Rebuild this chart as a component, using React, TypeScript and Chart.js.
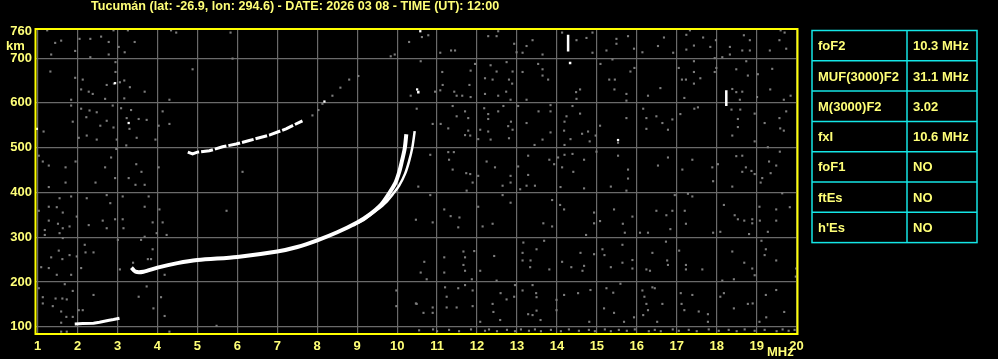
import React, { useEffect, useRef } from 'react';
import { Chart, registerables } from 'chart.js';

Chart.register(...registerables);

const TITLE = 'Tucumán (lat: -26.9, lon: 294.6) - DATE: 2026 03 08 - TIME (UT): 12:00';
const freqTicks = [1, 2, 3, 4, 5, 6, 7, 8, 9, 10, 11, 12, 13, 14, 15, 16, 17, 18, 19, 20];
const heightTicks = [100, 200, 300, 400, 500, 600, 700, 760];
const paramNames = ['foF2', 'MUF(3000)F2', 'M(3000)F2', 'fxI', 'foF1', 'ftEs', "h'Es"];
const paramValues = ['10.3 MHz', '31.1 MHz', '3.02', '10.6 MHz', 'NO', 'NO', 'NO'];

// Echo traces: [frequency MHz, virtual height km]
const eTrace: [number, number][] = [
  [1.93, 106], [2.13, 107], [2.4, 108], [2.55, 110], [2.76, 114], [2.9, 116], [3.05, 119],
];
const oTrace: [number, number][] = [
  [3.35, 232], [3.45, 223], [3.65, 223], [4.0, 232], [4.5, 242], [5.0, 249], [6.0, 256],
  [7.0, 268], [7.5, 278], [8.0, 293], [8.5, 311], [9.0, 333], [9.3, 350], [9.6, 373],
  [9.8, 398], [9.95, 420], [10.05, 445], [10.12, 470], [10.19, 498], [10.23, 530],
];
const xTrace: [number, number][] = [
  [8.9, 326], [9.2, 341], [9.5, 361], [9.72, 378], [9.9, 397], [10.05, 415], [10.2, 442],
  [10.3, 470], [10.38, 500], [10.44, 537],
];
const secondHop: [number, number][] = [
  [4.76, 490], [4.88, 486], [5.0, 490], [5.3, 493], [5.63, 502], [5.97, 508], [6.3, 516],
  [6.8, 528], [7.22, 542], [7.63, 560],
];
const artifacts: ([number, number] | null)[] = [
  [14.28, 752], [14.28, 715], null, [14.33, 692], [14.33, 686], null,
  [18.24, 628], [18.24, 593], null, [10.53, 627], [10.53, 621],
];
const whiteDots: [number, number][] = [
  [2.94, 644], [3.28, 555], [0.98, 542], [8.18, 603], [15.53, 517], [10.58, 760], [10.5, 630],
];
const noise: [number, number][] = [
  [1.24, 762], [1.44, 734], [1.59, 739], [1.34, 708], [1.94, 716], [2.05, 743], [2.32, 743],
  [2.59, 748], [2.78, 736], [2.32, 702], [2.78, 708], [2.9, 762], [3.03, 725], [3.18, 713],
  [3.26, 762], [3.43, 736], [1.32, 670], [1.94, 656], [2.13, 652], [2.09, 630], [2.28, 625],
  [2.38, 620], [2.73, 640], [2.91, 643], [2.95, 691], [2.95, 669], [3.06, 646], [3.17, 650],
  [3.31, 635], [3.17, 610], [3.68, 625], [4.3, 607], [4.88, 675], [5.88, 699], [1.84, 607],
  [1.84, 594], [2.09, 587], [2.3, 583], [2.48, 579], [2.69, 609], [2.88, 594], [3.09, 588],
  [3.34, 584], [2.22, 568], [2.73, 560], [3.23, 566], [3.53, 564], [3.73, 562], [4.13, 581],
  [4.3, 553], [4.03, 549], [1.88, 558], [2.57, 549], [2.9, 545], [3.3, 542], [1.15, 536],
  [2.03, 522], [2.23, 527], [2.48, 518], [2.98, 518], [3.48, 522], [3.95, 518], [3.22, 505],
  [1.03, 482], [1.13, 469], [1.28, 460], [1.7, 456], [1.95, 469], [2.69, 456], [2.84, 478],
  [2.97, 497], [3.47, 463], [3.6, 446], [4.03, 456], [2.94, 432], [3.28, 432], [6.13, 446],
  [8.8, 652], [9.03, 660], [8.58, 634], [8.38, 616], [7.88, 572], [8.03, 584], [8.13, 598],
  [9.84, 704], [9.94, 708], [10.3, 736], [10.34, 616], [4.47, 757], [5.83, 757], [4.34, 762],
  [10.62, 747], [10.78, 751], [11.08, 712], [11.35, 717], [11.45, 717], [12.28, 749],
  [12.49, 749], [12.53, 760], [12.93, 732], [12.99, 713], [13.14, 712], [13.24, 727],
  [13.39, 740], [13.64, 708], [14.13, 757], [14.49, 740], [14.74, 745], [14.89, 757],
  [14.89, 712], [15.24, 717], [15.49, 743], [15.78, 749], [15.49, 732], [15.93, 721],
  [16.14, 713], [16.53, 727], [16.68, 746], [16.91, 712], [17.24, 752], [17.33, 762],
  [17.43, 728], [17.24, 719], [17.66, 746], [17.84, 725], [17.98, 740], [18.14, 702],
  [18.33, 725], [18.33, 708], [18.68, 751], [18.83, 740], [18.64, 717], [18.83, 717],
  [19.33, 717], [19.6, 762], [19.7, 757], [19.74, 721], [19.57, 740], [10.59, 693],
  [11.13, 669], [11.08, 628], [11.14, 640], [10.95, 625], [11.43, 625], [11.49, 616],
  [11.63, 616], [11.84, 613], [11.81, 640], [11.84, 672], [11.95, 687], [12.2, 655],
  [12.34, 684], [12.39, 652], [12.49, 670], [12.74, 691], [12.8, 652], [12.89, 670],
  [12.88, 643], [12.73, 625], [12.2, 620], [12.53, 616], [12.84, 607], [13.14, 669],
  [13.24, 607], [13.53, 687], [13.64, 675], [13.78, 652], [13.64, 661], [14.48, 624],
  [14.49, 609], [14.58, 630], [15.09, 687], [15.39, 697], [15.31, 652], [15.45, 652],
  [15.44, 630], [15.74, 620], [15.84, 670], [15.94, 678], [15.74, 605], [16.28, 616],
  [16.59, 633], [17.05, 678], [17.13, 652], [17.23, 652], [17.43, 693], [17.43, 669],
  [17.59, 655], [17.19, 611], [17.43, 643], [17.95, 700], [17.99, 678], [17.95, 669],
  [18.49, 675], [18.39, 631], [18.49, 624], [18.64, 625], [18.58, 607], [18.74, 693],
  [18.78, 661], [19.03, 664], [19.01, 613], [19.34, 630], [19.39, 676], [19.68, 607],
  [19.85, 616], [10.49, 587], [10.89, 553], [11.09, 553], [11.28, 543], [11.39, 593],
  [11.49, 570], [11.7, 581], [11.78, 566], [11.78, 538], [11.83, 527], [11.7, 528],
  [12.08, 540], [12.18, 588], [12.28, 575], [12.28, 564], [12.28, 536], [12.53, 581],
  [12.66, 593], [12.78, 548], [12.85, 558], [12.89, 540], [12.8, 521], [12.34, 518],
  [12.03, 519], [13.03, 593], [13.24, 555], [13.54, 581], [13.84, 595], [13.84, 581],
  [13.64, 518], [13.44, 506], [13.84, 534], [14.19, 558], [14.24, 570], [14.18, 538],
  [14.39, 593], [14.58, 576], [14.63, 531], [14.78, 536], [14.82, 514], [14.97, 527],
  [15.08, 549], [14.34, 519], [14.19, 506], [15.53, 511], [15.74, 566], [16.16, 587],
  [16.24, 566], [16.24, 542], [16.49, 570], [16.64, 555], [16.78, 540], [16.89, 563],
  [17.09, 575], [17.44, 587], [17.53, 590], [18.37, 585], [18.53, 564], [18.53, 546],
  [18.39, 527], [18.59, 585], [18.95, 576], [18.95, 514], [19.2, 555], [19.57, 566],
  [19.59, 543], [19.68, 538], [19.74, 581], [19.28, 501], [10.83, 484], [11.28, 490],
  [11.42, 490], [11.3, 473], [11.39, 451], [11.73, 443], [11.83, 441], [12.03, 437],
  [12.24, 469], [12.45, 456], [12.84, 437], [13.03, 458], [13.28, 482], [13.28, 439],
  [13.81, 473], [13.93, 463], [14.13, 456], [14.03, 478], [14.19, 484], [14.39, 486],
  [14.41, 446], [14.68, 473], [14.99, 491], [15.53, 482], [15.78, 451], [15.78, 431],
  [16.53, 460], [16.78, 478], [17.14, 451], [17.39, 473], [17.89, 456], [18.03, 463],
  [18.49, 481], [18.64, 482], [18.73, 456], [18.64, 446], [18.87, 448], [18.95, 441],
  [19.14, 432], [19.31, 469], [19.49, 460], [19.35, 443], [19.58, 491],
  [1.28, 412], [1.7, 422], [2.45, 422], [3.45, 417], [3.68, 417], [1.84, 391], [1.55, 387],
  [2.23, 387], [2.73, 394], [2.82, 376], [3.13, 391], [3.78, 391], [3.68, 368], [4.05, 362],
  [1.28, 368], [1.48, 367], [1.63, 355], [1.03, 359], [1.98, 346], [1.28, 337], [1.51, 330],
  [1.63, 320], [1.8, 324], [2.28, 327], [2.63, 337], [2.73, 320], [2.94, 340], [3.13, 340],
  [3.15, 320], [3.88, 333], [4.13, 333], [3.98, 309], [4.23, 305], [1.18, 316], [1.18, 305],
  [1.55, 309], [1.63, 298], [3.01, 294], [3.59, 294], [3.68, 301], [2.18, 283], [2.2, 266],
  [2.4, 266], [1.53, 270], [1.34, 255], [1.62, 251], [1.8, 260], [1.98, 257], [3.88, 273],
  [3.76, 251], [3.84, 251], [1.09, 233], [1.28, 231], [1.48, 216], [1.84, 216], [2.09, 231],
  [3.06, 228], [3.39, 243], [4.18, 216], [1.03, 186], [1.68, 195], [1.88, 180], [2.4, 171],
  [1.13, 166], [1.13, 152], [1.45, 163], [1.62, 163], [1.73, 161], [1.38, 146], [1.59, 134],
  [1.72, 122], [1.88, 122], [2.03, 137], [2.13, 137], [3.53, 167], [3.9, 141], [4.09, 166],
  [4.18, 124], [3.73, 190], [1.59, 109], [1.59, 89], [1.73, 89], [5.48, 102], [5.73, 359],
  [4.3, 89], [9.98, 181], [9.98, 146], [10.47, 339], [10.47, 152],
  [10.53, 413], [10.83, 394], [10.89, 333], [11.18, 362], [11.34, 347], [11.56, 344],
  [11.53, 322], [11.74, 404], [11.89, 422], [12.03, 368], [12.14, 324], [12.39, 330],
  [12.64, 394], [12.64, 415], [12.84, 377], [12.84, 422], [13.08, 407], [13.24, 415],
  [13.45, 415], [13.66, 331], [13.88, 383], [13.88, 324], [14.09, 412], [14.08, 372],
  [14.18, 362], [14.68, 409], [14.73, 305], [14.93, 355], [14.93, 331], [15.08, 336],
  [15.35, 413], [15.43, 362], [15.65, 330], [15.7, 310], [15.89, 346], [15.74, 404],
  [16.08, 310], [16.28, 310], [16.49, 359], [16.74, 349], [16.84, 318], [16.89, 359],
  [16.95, 394], [17.2, 359], [17.28, 397], [17.23, 330], [17.39, 391], [17.91, 310],
  [17.91, 425], [18.09, 312], [18.18, 372], [18.39, 413], [18.45, 349], [18.53, 340],
  [18.69, 337], [18.89, 340], [18.81, 307], [18.89, 331], [19.07, 368], [19.1, 422],
  [19.28, 312], [19.49, 362], [19.64, 398], [19.83, 367], [19.49, 337], [19.08, 337],
  [10.68, 245], [10.59, 221], [10.74, 206], [11.18, 255], [11.18, 221], [11.66, 268],
  [11.7, 255], [11.66, 238], [11.7, 225], [11.87, 206], [11.93, 269], [12.08, 225],
  [12.43, 258], [12.49, 203], [13.14, 265], [13.14, 248], [13.34, 248], [13.33, 233],
  [13.49, 273], [13.68, 292], [13.81, 228], [13.16, 288], [14.13, 245], [14.36, 233],
  [14.59, 265], [14.68, 236], [14.64, 225], [14.93, 262], [15.14, 273], [15.19, 260],
  [15.35, 233], [15.64, 283], [15.64, 243], [15.89, 249], [15.89, 230], [16.24, 228],
  [16.39, 265], [16.33, 225], [16.73, 290], [16.76, 248], [16.78, 238], [17.06, 270],
  [17.23, 238], [17.23, 228], [17.64, 228], [18.14, 203], [18.43, 206], [18.39, 268],
  [18.69, 243], [18.89, 230], [18.95, 215], [19.12, 292], [19.2, 260], [19.23, 273],
  [19.49, 248], [19.99, 230], [19.98, 212],
  [10.49, 151], [10.66, 131], [10.89, 143], [10.89, 131], [11.2, 188], [11.24, 143],
  [11.24, 167], [11.53, 186], [11.49, 143], [11.7, 193], [11.89, 181], [11.89, 146],
  [12.08, 111], [12.39, 151], [12.59, 175], [12.41, 133], [12.58, 115], [12.74, 161],
  [12.93, 167], [12.95, 193], [13.14, 181], [13.28, 128], [13.39, 193], [13.48, 175],
  [13.49, 166], [13.49, 136], [13.39, 126], [13.59, 115], [13.99, 160], [13.99, 137],
  [14.18, 171], [14.53, 175], [14.84, 182], [14.81, 111], [15.18, 141], [15.24, 186],
  [15.41, 176], [15.43, 131], [15.59, 196], [15.68, 111], [15.93, 121], [16.14, 181],
  [16.19, 167], [16.24, 151], [16.39, 188], [16.45, 186], [16.28, 137], [16.16, 126],
  [16.64, 151], [16.51, 111], [17.1, 175], [17.12, 151], [17.19, 137], [17.39, 171],
  [17.55, 134], [17.78, 128], [17.78, 111], [18.09, 167], [18.18, 175], [18.43, 141],
  [18.78, 151], [18.9, 152], [19.07, 111], [19.24, 121], [19.23, 171], [19.49, 182],
  [19.69, 133],
  [10.55, 92], [10.9, 94], [11.0, 90], [11.3, 93], [11.55, 90], [11.85, 94], [12.2, 91],
  [12.3, 94], [12.5, 90], [12.75, 93], [12.95, 90], [13.1, 94], [13.3, 91], [13.45, 94],
  [13.6, 90], [13.85, 93], [14.1, 90], [14.3, 94], [14.55, 91], [14.8, 93], [14.95, 90],
  [15.2, 94], [15.35, 90], [15.55, 93], [15.75, 91], [15.95, 94], [16.3, 90], [16.45, 93],
  [16.6, 90], [16.9, 94], [17.05, 91], [17.3, 93], [17.5, 90], [17.8, 94], [18.05, 91],
  [18.3, 93], [18.5, 90], [18.7, 94], [18.95, 91], [19.2, 93], [19.5, 90], [19.65, 94],
  [19.8, 91], [19.95, 93],
];

const YELLOW = '#ffff78';
const CYAN = '#14e6e6';
const FONT = '"Liberation Sans", Arial, sans-serif';

const toXY = (arr: ([number, number] | null)[]) =>
  arr.map((p) => (p ? { x: p[0], y: p[1] } : { x: NaN, y: NaN }));

const decorPlugin = {
  id: 'decor',
  beforeDraw(chart: any) {
    const ctx = chart.ctx;
    ctx.save();
    ctx.fillStyle = '#000';
    ctx.fillRect(0, 0, chart.width, chart.height);
    ctx.restore();
  },
  afterDraw(chart: any) {
    const ctx = chart.ctx;
    const a = chart.chartArea;
    ctx.save();
    // border
    ctx.strokeStyle = '#ffff00';
    ctx.lineWidth = 2;
    ctx.strokeRect(a.left - 0.5, a.top, a.right - a.left + 1, a.bottom - a.top + 1);
    // title
    ctx.fillStyle = YELLOW;
    ctx.font = `bold 12.6px ${FONT}`;
    ctx.textBaseline = 'middle';
    ctx.textAlign = 'left';
    ctx.fillText(TITLE, 91, 7);
    // axis units
    ctx.font = `bold 13px ${FONT}`;
    ctx.fillText('km', 6, 46);
    ctx.fillText('MHz', 767, 352);
    // table
    const tx0 = 812, tx1 = 907, tx2 = 977, ty0 = 30.5, rowH = 30.3;
    ctx.strokeStyle = CYAN;
    ctx.lineWidth = 1.5;
    const n = paramNames.length;
    ctx.strokeRect(tx0, ty0, tx2 - tx0, rowH * n);
    for (let i = 1; i < n; i++) {
      ctx.beginPath();
      ctx.moveTo(tx0, ty0 + rowH * i);
      ctx.lineTo(tx2, ty0 + rowH * i);
      ctx.stroke();
    }
    ctx.beginPath();
    ctx.moveTo(tx1, ty0);
    ctx.lineTo(tx1, ty0 + rowH * n);
    ctx.stroke();
    ctx.fillStyle = YELLOW;
    ctx.font = `bold 13px ${FONT}`;
    for (let i = 0; i < n; i++) {
      const cy = ty0 + rowH * i + rowH / 2 + 1;
      ctx.fillText(paramNames[i], 818, cy);
      ctx.fillText(paramValues[i], 913, cy);
    }
    ctx.restore();
  },
};

export default function App() {
  const ref = useRef<HTMLCanvasElement>(null);
  useEffect(() => {
    document.body.style.margin = '0';
    document.body.style.background = '#000';
    const canvas = ref.current!;
    const chart = new Chart(canvas, {
      type: 'scatter',
      data: {
        datasets: [
          { data: toXY(eTrace), showLine: true, borderColor: '#fff', borderWidth: 3, pointRadius: 0 },
          { data: toXY(oTrace), showLine: true, borderColor: '#fff', borderWidth: 4, pointRadius: 0, tension: 0.3 },
          { data: toXY(xTrace), showLine: true, borderColor: '#fff', borderWidth: 2.5, pointRadius: 0, tension: 0.3 },
          { data: toXY(secondHop), showLine: true, borderColor: '#fff', borderWidth: 3, pointRadius: 0, borderDash: [12, 2] },
          { data: toXY(artifacts), showLine: true, spanGaps: false, borderColor: '#fff', borderWidth: 2.5, pointRadius: 0 },
          { data: toXY(whiteDots), pointStyle: 'rect', pointRadius: 1.6, backgroundColor: '#fff', borderWidth: 0 },
          { data: toXY(noise), pointStyle: 'rect', pointRadius: 1.5, backgroundColor: '#7c7c7c', borderWidth: 0 },
        ],
      },
      options: {
        animation: false,
        responsive: false,
        devicePixelRatio: 1,
        layout: { padding: { top: 29, right: 201, left: 0, bottom: 0 } },
        plugins: { legend: { display: false }, tooltip: { enabled: false }, title: { display: false } },
        scales: {
          x: {
            type: 'linear',
            min: 0.96,
            max: 20.01,
            afterBuildTicks: (s: any) => { s.ticks = freqTicks.map((v) => ({ value: v })); },
            afterFit: (s: any) => { s.height = 26; },
            grid: { color: '#6a6a6a', lineWidth: 1.2, drawTicks: false },
            border: { display: false },
            ticks: { color: YELLOW, font: { family: FONT, size: 13, weight: 'bold' }, padding: 6, maxRotation: 0, autoSkip: false },
          },
          y: {
            type: 'linear',
            min: 86,
            max: 765,
            afterBuildTicks: (s: any) => { s.ticks = heightTicks.map((v) => ({ value: v })); },
            afterFit: (s: any) => { s.width = 36; },
            grid: {
              color: (c: any) => (c.tick && c.tick.value === 760 ? 'rgba(0,0,0,0)' : '#6a6a6a'),
              lineWidth: 1.2,
              drawTicks: false,
            },
            border: { display: false },
            ticks: { color: YELLOW, font: { family: FONT, size: 13, weight: 'bold' }, padding: 4, autoSkip: false },
          },
        },
      },
      plugins: [decorPlugin],
    });
    return () => chart.destroy();
  }, []);
  return (
    <div style={{ width: 998, height: 359, background: '#000' }}>
      <canvas ref={ref} width={998} height={359} style={{ display: 'block', width: 998, height: 359 }} />
    </div>
  );
}
